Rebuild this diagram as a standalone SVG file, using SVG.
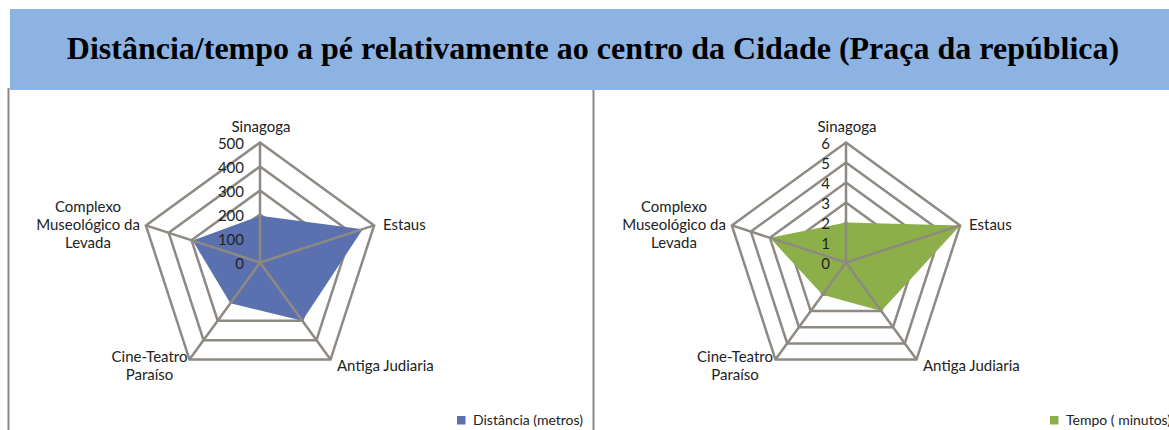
<svg xmlns="http://www.w3.org/2000/svg" width="1169" height="430" viewBox="0 0 1169 430">
<style>
.ring{fill:none;stroke:#8E8983;stroke-width:2.5;stroke-linejoin:miter}
.spoke{stroke:#8E8983;stroke-width:2.5}
.lbl{font-family:Lato,"Liberation Sans",sans-serif;font-size:15px;fill:#222}
.num{font-family:Lato,"Liberation Sans",sans-serif;font-size:15px;fill:#222;text-anchor:end}
.mid{text-anchor:middle}
.leg{font-family:Lato,"Liberation Sans",sans-serif;font-size:14px;fill:#222}
.frame{stroke:#8E8983;stroke-width:2}
</style>
<rect width="1169" height="430" fill="#ffffff"/>
<g id="title">
<rect x="10" y="9" width="1159" height="81" fill="#8DB3E2"/>
<text x="593" y="59" text-anchor="middle" font-family="'Liberation Serif',serif" font-weight="bold" font-size="32" fill="#000">Distância/tempo a pé relativamente ao centro da Cidade (Praça da república)</text>
</g>
<g id="frame">
<line class="frame" x1="8.5" y1="88" x2="8.5" y2="430"/>
<line class="frame" x1="593.5" y1="90" x2="593.5" y2="430"/>
</g>
<g id="chart-distancia" transform="translate(260,262.5)">
<polygon class="ring" points="0,-24 22.83,-7.42 14.11,19.42 -14.11,19.42 -22.83,-7.42"/>
<polygon class="ring" points="0,-48 45.65,-14.83 28.21,38.83 -28.21,38.83 -45.65,-14.83"/>
<polygon class="ring" points="0,-72 68.48,-22.25 42.32,58.25 -42.32,58.25 -68.48,-22.25"/>
<polygon class="ring" points="0,-96 91.31,-29.66 56.43,77.66 -56.43,77.66 -91.31,-29.66"/>
<polygon class="ring" points="0,-120 114.13,-37.08 70.53,97.08 -70.53,97.08 -114.13,-37.08"/>
<polygon points="0,-46.8 102.72,-33.37 42.32,58.25 -29.62,40.77 -67.34,-21.88" fill="#5B70AE"/>
<line class="spoke" x1="0" y1="0" x2="0" y2="-120"/>
<line class="spoke" x1="0" y1="0" x2="114.13" y2="-37.08"/>
<line class="spoke" x1="0" y1="0" x2="70.53" y2="97.08"/>
<line class="spoke" x1="0" y1="0" x2="-70.53" y2="97.08"/>
<line class="spoke" x1="0" y1="0" x2="-114.13" y2="-37.08"/>
</g>
<g id="labels-distancia">
<text class="lbl mid" x="261" y="132">Sinagoga</text>
<text class="num" x="244" y="149">500</text>
<text class="num" x="244" y="173">400</text>
<text class="num" x="244" y="197">300</text>
<text class="num" x="244" y="221">200</text>
<text class="num" x="244" y="245">100</text>
<text class="num" x="244" y="269">0</text>
<text class="lbl" x="383" y="230">Estaus</text>
<text class="lbl" x="337" y="371">Antiga Judiaria</text>
<text class="lbl mid" x="149.5" y="362">Cine-Teatro</text>
<text class="lbl mid" x="149.5" y="380">Paraíso</text>
<text class="lbl mid" x="88" y="212">Complexo</text>
<text class="lbl mid" x="88" y="230">Museológico da</text>
<text class="lbl mid" x="88" y="248">Levada</text>
</g>
<g id="legend-distancia">
<rect x="457" y="416" width="8.5" height="8.5" fill="#5B70AE"/>
<text class="leg" x="473" y="425">Distância (metros)</text>
</g>
<g id="chart-tempo" transform="translate(846,262.5)">
<polygon class="ring" points="0,-20 19.02,-6.18 11.76,16.18 -11.76,16.18 -19.02,-6.18"/>
<polygon class="ring" points="0,-40 38.04,-12.36 23.51,32.36 -23.51,32.36 -38.04,-12.36"/>
<polygon class="ring" points="0,-60 57.06,-18.54 35.27,48.54 -35.27,48.54 -57.06,-18.54"/>
<polygon class="ring" points="0,-80 76.08,-24.72 47.02,64.72 -47.02,64.72 -76.08,-24.72"/>
<polygon class="ring" points="0,-100 95.11,-30.9 58.78,80.9 -58.78,80.9 -95.11,-30.9"/>
<polygon class="ring" points="0,-120 114.13,-37.08 70.53,97.08 -70.53,97.08 -114.13,-37.08"/>
<polygon points="0,-40 114.13,-37.08 35.27,48.54 -23.51,32.36 -76.08,-24.72" fill="#8CAF4A"/>
<line class="spoke" x1="0" y1="0" x2="0" y2="-120"/>
<line class="spoke" x1="0" y1="0" x2="114.13" y2="-37.08"/>
<line class="spoke" x1="0" y1="0" x2="70.53" y2="97.08"/>
<line class="spoke" x1="0" y1="0" x2="-70.53" y2="97.08"/>
<line class="spoke" x1="0" y1="0" x2="-114.13" y2="-37.08"/>
</g>
<g id="labels-tempo">
<text class="lbl mid" x="847" y="132">Sinagoga</text>
<text class="num" x="830" y="149">6</text>
<text class="num" x="830" y="169">5</text>
<text class="num" x="830" y="189">4</text>
<text class="num" x="830" y="209">3</text>
<text class="num" x="830" y="229">2</text>
<text class="num" x="830" y="249">1</text>
<text class="num" x="830" y="269">0</text>
<text class="lbl" x="969" y="230">Estaus</text>
<text class="lbl" x="923" y="371">Antiga Judiaria</text>
<text class="lbl mid" x="735" y="362">Cine-Teatro</text>
<text class="lbl mid" x="735" y="380">Paraíso</text>
<text class="lbl mid" x="674" y="212">Complexo</text>
<text class="lbl mid" x="674" y="230">Museológico da</text>
<text class="lbl mid" x="674" y="248">Levada</text>
</g>
<g id="legend-tempo">
<rect x="1050" y="416" width="8.5" height="8.5" fill="#8CAF4A"/>
<text class="leg" x="1066" y="425">Tempo ( minutos)</text>
</g>
</svg>
